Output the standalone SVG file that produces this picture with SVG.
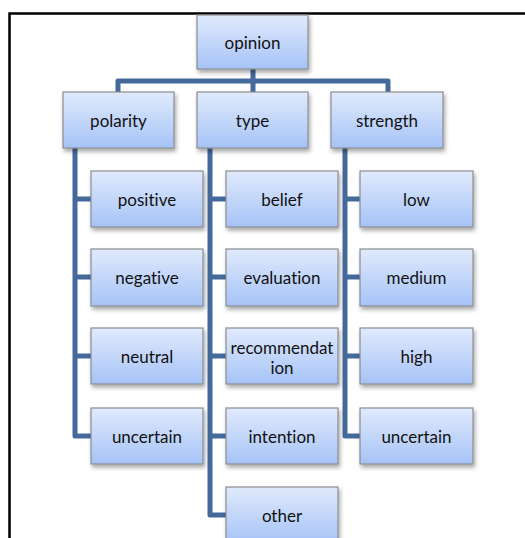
<svg xmlns="http://www.w3.org/2000/svg" width="525" height="538" viewBox="0 0 525 538">
<defs>
<linearGradient id="g" x1="0" y1="0" x2="0" y2="1">
<stop offset="0" stop-color="#e0eafc"/>
<stop offset="1" stop-color="#a6c3f7"/>
</linearGradient>
<filter id="sh" x="-10%" y="-10%" width="130%" height="140%">
<feDropShadow dx="1.5" dy="3" stdDeviation="2" flood-color="#000" flood-opacity="0.35"/>
</filter>
</defs>
<style>
.box{fill:url(#g);stroke:#8a8d91;stroke-width:1.2;filter:url(#sh)}
.t{font-family:Lato,"Open Sans",sans-serif;font-size:17px;fill:#111;text-anchor:middle;dominant-baseline:central;font-variant-ligatures:none}
.c{fill:none;stroke:#44699b;stroke-width:5;stroke-linejoin:round;stroke-linecap:butt}
.frame{fill:none;stroke:#000;stroke-width:2.5}
</style>
<rect width="525" height="538" fill="#fff"/>
<path class="frame" d="M9.5 538 V13.5 H525"/>
<g id="connectors">
<path class="c" d="M253 69 V81"/>
<path class="c" d="M118 92 V81 H388 V92"/>
<path class="c" d="M253 81 V92"/>
<path class="c" d="M75 148 V436 H91"/>
<path class="c" d="M75 199 H91 M75 277 H91 M75 356 H91"/>
<path class="c" d="M210 148 V515 H226"/>
<path class="c" d="M210 199 H226 M210 277 H226 M210 356 H226 M210 436 H226"/>
<path class="c" d="M345 148 V436 H360"/>
<path class="c" d="M345 199 H360 M345 277 H360 M345 356 H360"/>
</g>
<g id="opinion"><rect class="box" x="197" y="15" width="111" height="54"/><text class="t" x="252.5" y="42">opinion</text></g>
<g id="polarity"><rect class="box" x="63" y="92" width="111" height="56"/><text class="t" x="118.5" y="120">polarity</text></g>
<g id="type"><rect class="box" x="197" y="92" width="111" height="56"/><text class="t" x="252.5" y="120">type</text></g>
<g id="strength"><rect class="box" x="331" y="92" width="112" height="56"/><text class="t" x="387" y="120">strength</text></g>
<g id="positive"><rect class="box" x="91" y="171" width="112" height="56"/><text class="t" x="147" y="199">positive</text></g>
<g id="negative"><rect class="box" x="91" y="249" width="112" height="57"/><text class="t" x="147" y="277">negative</text></g>
<g id="neutral"><rect class="box" x="91" y="328" width="112" height="56"/><text class="t" x="147" y="356">neutral</text></g>
<g id="uncertain1"><rect class="box" x="91" y="408" width="112" height="56"/><text class="t" x="147" y="436">uncertain</text></g>
<g id="belief"><rect class="box" x="226" y="171" width="112" height="56"/><text class="t" x="282" y="199">belief</text></g>
<g id="evaluation"><rect class="box" x="226" y="249" width="112" height="57"/><text class="t" x="282" y="277">evaluation</text></g>
<g id="recommendation"><rect class="box" x="226" y="328" width="112" height="56"/><text class="t" x="282" y="347">recommendat</text><text class="t" x="282" y="367">ion</text></g>
<g id="intention"><rect class="box" x="226" y="408" width="112" height="56"/><text class="t" x="282" y="436">intention</text></g>
<g id="other"><rect class="box" x="226" y="487" width="112" height="56"/><text class="t" x="282" y="515">other</text></g>
<g id="low"><rect class="box" x="360" y="171" width="113" height="56"/><text class="t" x="416.5" y="199">low</text></g>
<g id="medium"><rect class="box" x="360" y="249" width="113" height="57"/><text class="t" x="416.5" y="277">medium</text></g>
<g id="high"><rect class="box" x="360" y="328" width="113" height="56"/><text class="t" x="416.5" y="356">high</text></g>
<g id="uncertain2"><rect class="box" x="360" y="408" width="113" height="56"/><text class="t" x="416.5" y="436">uncertain</text></g>
</svg>
